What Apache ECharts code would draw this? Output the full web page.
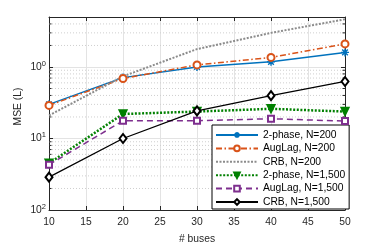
<!DOCTYPE html>
<html><head><meta charset="utf-8">
<script src="https://cdn.jsdelivr.net/npm/echarts@6/dist/echarts.min.js"></script>
<style>html,body{margin:0;padding:0;background:#fff}#c{width:382px;height:245px}</style>
</head><body><div id="c"></div>
<script>
const buses = [10, 20, 30, 40, 50];
const twoPhase200 = [0.30, 0.71, 1.00, 1.18, 1.60];
const augLag200 = [0.29, 0.69, 1.07, 1.36, 2.10];
const crb200 = [0.21, 0.74, 1.78, 3.00, 4.65];
const twoPhase1500 = [0.045, 0.22, 0.238, 0.26, 0.238];
const augLag1500 = [0.043, 0.177, 0.177, 0.189, 0.175];
const crb1500 = [0.0288, 0.100, 0.243, 0.397, 0.627];
const xTicks = [10, 15, 20, 25, 30, 35, 40, 45, 50];
const yMajor = [0.01, 0.1, 1];
const yMinor = [0.02,0.03,0.04,0.05,0.06,0.07,0.08,0.09,0.2,0.3,0.4,0.5,0.6,0.7,0.8,0.9,2,3,4];
const names = ['2-phase, N=200','AugLag, N=200','CRB, N=200','2-phase, N=1,500','AugLag, N=1,500','CRB, N=1,500'];

const pairs = a => a.map((v, i) => [buses[i], v]);
const star = 'path://M0,-5L0,5M-5,0L5,0M-3.54,-3.54L3.54,3.54M-3.54,3.54L3.54,-3.54';
const axCol = '#262626';
const font = 'Liberation Sans, Arial, Helvetica, sans-serif';

function mk(name, data, color, lw, dash, symbol, size, extra) {
  return Object.assign({
    name, type: 'line', data: pairs(data), z: 5,
    symbol, symbolSize: size,
    lineStyle: { color, width: lw, type: dash },
    itemStyle: { color: color, borderColor: color, borderWidth: 1.4 },
    emphasis: { disabled: true }, animation: false
  }, extra || {});
}

const chart = echarts.init(document.getElementById('c'));
chart.setOption({
  animation: false,
  textStyle: { fontFamily: font },
  grid: { left: 49, right: 37, top: 17, bottom: 35, outerBoundsMode: 'none', containLabel: false },
  legend: {
    data: names, orient: 'vertical', left: 212, top: 125,
    backgroundColor: '#fff', borderColor: '#000', borderWidth: 1,
    padding: [5, 4, 2, 3], itemGap: 3.4, itemWidth: 42, itemHeight: 7,
    textStyle: { fontSize: 10.3, color: '#000', fontFamily: font },
    selectedMode: false
  },
  xAxis: [{
    type: 'value', min: 10, max: 50, interval: 5, position: 'bottom',
    name: '# buses', nameLocation: 'middle', nameGap: 24, nameMoveOverlap: false,
    nameTextStyle: { fontSize: 10.3, color: axCol },
    axisLine: { lineStyle: { color: axCol, width: 1 } },
    axisTick: { inside: true, length: 4, lineStyle: { color: axCol } },
    axisLabel: { fontSize: 10.3, color: axCol, margin: 7 },
    splitLine: { show: true, lineStyle: { color: '#e3e3e3', width: 1 } }
  }, {
    type: 'value', min: 10, max: 50, interval: 5, position: 'top',
    axisLine: { show: true, lineStyle: { color: axCol, width: 1 } },
    axisTick: { inside: true, length: 4, lineStyle: { color: axCol } },
    axisLabel: { show: false }, splitLine: { show: false }
  }],
  yAxis: [{
    type: 'log', min: 0.01, max: 5, logBase: 10, position: 'left',
    name: 'MSE (L)', nameLocation: 'middle', nameGap: 26, nameMoveOverlap: false,
    nameTextStyle: { fontSize: 10.3, color: axCol, padding: [0, 0, 0, 14] },
    axisLine: { show: true, lineStyle: { color: axCol, width: 1 } },
    axisTick: { inside: true, length: 4, lineStyle: { color: axCol } },
    axisLabel: {
      margin: 3, color: axCol,
      formatter: v => {
        const e = Math.log10(v);
        if (Math.abs(e - Math.round(e)) > 1e-6) return '';
        return '{b|10}{s|' + Math.abs(Math.round(e)) + '}';
      },
      rich: {
        b: { fontSize: 10.3, color: axCol, fontFamily: font },
        s: { fontSize: 7.5, color: axCol, fontFamily: font, padding: [0, 0, 7, 0] }
      }
    },
    splitLine: { show: true, lineStyle: { color: '#e3e3e3', width: 1 } }
  }, {
    type: 'log', min: 0.01, max: 5, logBase: 10, position: 'right',
    axisLine: { show: true, lineStyle: { color: axCol, width: 1 } },
    axisTick: { inside: true, length: 4, lineStyle: { color: axCol } },
    axisLabel: { show: false }, splitLine: { show: false }
  }],
  series: [
    {
      type: 'custom', name: 'minor', z: 1, silent: true, animation: false,
      data: yMinor.map(v => [10, v]),
      renderItem: (params, api) => {
        const v = api.value(1);
        const a = api.coord([10, v]);
        const b = api.coord([50, v]);
        const st = { stroke: axCol, lineWidth: 1 };
        return { type: 'group', children: [
          { type: 'line', shape: { x1: a[0], y1: a[1], x2: b[0], y2: b[1] },
            style: { stroke: '#cfcfcf', lineWidth: 1, lineDash: [1, 2] } },
          { type: 'line', shape: { x1: a[0], y1: a[1], x2: a[0] + 2.5, y2: a[1] }, style: st },
          { type: 'line', shape: { x1: b[0] - 2.5, y1: b[1], x2: b[0], y2: b[1] }, style: st }
        ] };
      }
    },
    mk(names[0], twoPhase200, '#0072BD', 1.5, 'solid', star, 8),
    mk(names[1], augLag200, '#D95319', 1.5, [6, 2.5, 1.5, 2.5], 'emptyCircle', 7),
    mk(names[2], crb200, '#8c8c8c', 2, [2, 1.5], 'circle', 1,
       { showSymbol: false, itemStyle: { color: '#8c8c8c', opacity: 0 } }),
    mk(names[3], twoPhase1500, '#008000', 2.5, [2, 1.6], 'triangle', 8, { symbolRotate: 180 }),
    mk(names[4], augLag1500, '#7E2F8E', 1.5, [6, 4], 'emptyRect', 6),
    mk(names[5], crb1500, '#000000', 1.3, 'solid', 'emptyDiamond', [7, 9])
  ]
});
</script></body></html>
